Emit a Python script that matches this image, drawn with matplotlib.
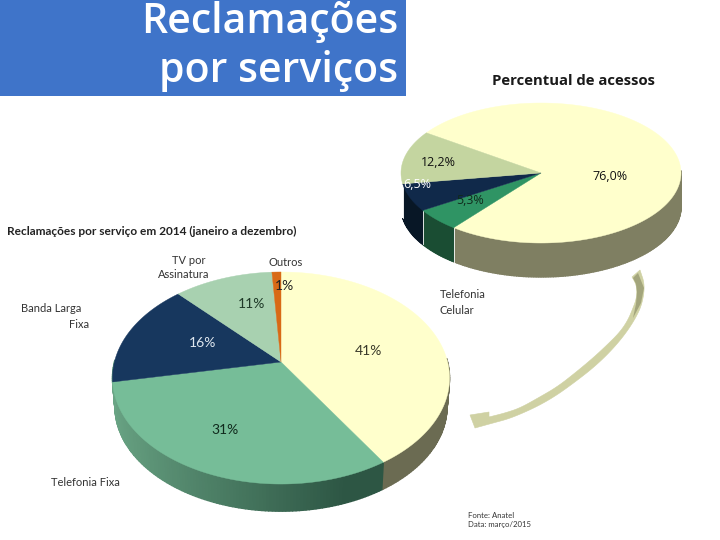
import matplotlib
matplotlib.use('Agg')
import matplotlib.pyplot as plt
from matplotlib.colors import to_rgb
from matplotlib.patches import Polygon, Rectangle
import numpy as np

# data
top_values = [76.0, 5.3, 6.5, 12.2]
top_text = ['76,0%', '5,3%', '6,5%', '12,2%']
top_colors = ['#ffffcc', '#2f9464', '#10294a', '#c4d5a0']
top_side_left = ['#7f7f62', '#1a4d33', '#081726', '#ffffff']
top_side_right = ['#7f7f62', '#1a4d33', '#081726', '#ffffff']

bottom_values = [41, 31, 16, 11, 1]
bottom_text = ['41%', '31%', '16%', '11%', '1%']
bottom_colors = ['#ffffcc', '#76bd98', '#17375e', '#a8d1b0', '#d86a16']
bottom_side_left = ['#75755a', '#6aa585', '#6aa585', '#78957e', '#99500f']
bottom_side_right = ['#6b6b52', '#2d5644', '#6aa585', '#78957e', '#99500f']

fig = plt.figure(figsize=(7.2, 5.4), dpi=100)
ax = fig.add_axes([0, 0, 1, 1])
ax.set_xlim(0, 720)
ax.set_ylim(540, 0)
ax.axis('off')


def project(t, cx, cy, a, b, k, depth=0, shrink=1.0):
    # circle -> slanted ellipse, apex stays at (cx, cy)
    u, v = np.cos(t), np.sin(t)
    x = cx + shrink * a * u / (1 + k * v)
    y = cy - shrink * b * v / (1 + k * v) + depth
    return x, y


def pie3d(values, colors, left, right, start, cx, cy, a, b, k, depth, shrink, seams):
    edges = start - np.cumsum([0] + list(values)) / sum(values) * 360
    # side wall first
    for i in range(len(values)):
        steps = np.arange(edges[i], edges[i + 1] - 1, -1.0)
        steps = np.append(steps[steps > edges[i + 1]], edges[i + 1])
        c0, c1 = np.array(to_rgb(left[i])), np.array(to_rgb(right[i]))
        for s0, s1 in zip(steps[:-1], steps[1:]):
            t0, t1 = np.radians(s0), np.radians(s1)
            if np.sin(t0) > 0.02 and np.sin(t1) > 0.02:
                continue
            x0, y0 = project(t0, cx, cy, a, b, k)
            x1, y1 = project(t1, cx, cy, a, b, k)
            x2, y2 = project(t1, cx, cy, a, b, k, depth, shrink)
            x3, y3 = project(t0, cx, cy, a, b, k, depth, shrink)
            f = np.clip((np.cos(t0) + 1) / 2 * 1.5, 0, 1)
            col = c0 + (c1 - c0) * f
            ax.fill([x0, x1, x2, x3], [y0, y1, y2, y3], facecolor=col, edgecolor=col, lw=1.0, zorder=2)
        # thin white seam between wall pieces
        t = np.radians(edges[i + 1])
        if seams and np.sin(t) < 0 and i < len(values) - 1:
            x0, y0 = project(t, cx, cy, a, b, k)
            x1, y1 = project(t, cx, cy, a, b, k, depth, shrink)
            ax.plot([x0, x1], [y0, y1], color='white', lw=0.6, zorder=3)
    # top face
    for i in range(len(values)):
        t = np.radians(np.linspace(edges[i], edges[i + 1], 200))
        x, y = project(t, cx, cy, a, b, k)
        ax.fill(np.r_[cx, x], np.r_[cy, y], color=colors[i], lw=0.3, zorder=4)


def smooth(pts, n=3):
    # corner cutting so the arrow edges are not lumpy
    pts = np.array(pts, dtype=float)
    for _ in range(n):
        q = 0.75 * pts[:-1] + 0.25 * pts[1:]
        r = 0.25 * pts[:-1] + 0.75 * pts[1:]
        mid = np.empty((2 * len(q), 2))
        mid[0::2] = q
        mid[1::2] = r
        pts = np.vstack([pts[0], mid, pts[-1]])
    return pts


# heading box
ax.add_patch(Rectangle((0, 0), 406, 96, color='#3f74c9', lw=0, zorder=1))
ax.text(398, 33, 'Reclamações', color='white', fontsize=29.5, fontweight='semibold', ha='right', va='baseline',
        family='Open Sans', zorder=6)
ax.text(398, 82, 'por serviços', color='white', fontsize=29.5, fontweight='semibold', ha='right', va='baseline',
        family='Open Sans', zorder=6)
ax.text(574, 81, 'Percentual de acessos', fontsize=10.7, fontweight='bold', ha='center', va='center',
        family='Open Sans', color='#1a1a1a')

pie3d(top_values, top_colors, top_side_left, top_side_right, 145, 541, 173, 140, 70, 0, 34, 1.0, True)
pie3d(bottom_values, bottom_colors, bottom_side_left, bottom_side_right, 90, 281, 362, 166.6, 103.6, 0.151, 29, 0.985, False)

# labels on the upper pie
top_pos = [(610, 176), (470, 200), (417, 185), (438, 162)]
top_col = ['#111111', '#10291c', 'white', '#111111']
for s, p, c in zip(top_text, top_pos, top_col):
    ax.text(p[0], p[1], s, color=c, fontsize=9, ha='center', va='center', family='Open Sans', zorder=6)

# labels on the lower pie
bottom_pos = [(368, 351), (225, 430), (203, 343), (252, 304), (284, 286)]
bottom_col = ['#3a3a2a', '#10291c', '#dfe7ef', '#1f3a28', '#222222']
for s, p, c in zip(bottom_text, bottom_pos, bottom_col):
    ax.text(p[0], p[1], s, color=c, fontsize=10, ha='center', va='center', family='Lato', zorder=6)

ax.text(7, 231, 'Reclamações por serviço em 2014 (janeiro a dezembro)', fontsize=8.55, fontweight='bold',
        family='Lato', color='#222222', ha='left', va='center')

label_col = '#333333'
ax.text(205, 260, 'TV por', fontsize=8, family='Lato', color=label_col, ha='right', va='center')
ax.text(209, 275, 'Assinatura', fontsize=8, family='Lato', color=label_col, ha='right', va='center')
ax.text(286, 262, 'Outros', fontsize=8, family='Lato', color=label_col, ha='center', va='center')
ax.text(21, 309, 'Banda Larga', fontsize=8, family='Lato', color=label_col, ha='left', va='center')
ax.text(89, 325, 'Fixa', fontsize=8, family='Lato', color=label_col, ha='right', va='center')
ax.text(440, 294, 'Telefonia', fontsize=8, family='Lato', color=label_col, ha='left', va='center')
ax.text(440, 310, 'Celular', fontsize=8, family='Lato', color=label_col, ha='left', va='center')
ax.text(51, 482, 'Telefonia Fixa', fontsize=8, family='Lato', color=label_col, ha='left', va='center')
ax.text(468, 515, 'Fonte: Anatel', fontsize=5.6, family='Lato', color=label_col, ha='left', va='center')
ax.text(468, 524, 'Data: março/2015', fontsize=5.6, family='Lato', color=label_col, ha='left', va='center')

# curved arrow between the pies
arrow_outer = [(640, 270), (645, 285), (642, 305), (634, 321), (623, 337), (609, 353), (593, 368), (575, 382),
               (557, 395), (540, 405), (523, 413), (508, 419), (493, 423), (475, 428)]
arrow_head = [(470, 415), (489, 412)]
arrow_inner = [(489, 417), (505, 413), (520, 408), (538, 398), (557, 387), (575, 373), (593, 358), (607, 345),
               (620, 332), (628, 320), (633, 308), (636, 300), (637, 292), (636, 284), (632, 277)]
inner_xy = [(638, 273), (644, 288), (641, 303), (633, 318), (636, 304), (637, 292), (636, 284), (633, 278)]
arrow_xy = np.vstack([smooth(arrow_outer), arrow_head, smooth(arrow_inner)])
ax.add_patch(Polygon(arrow_xy, closed=True, facecolor='#cfd1a3', edgecolor='#cfd1a3', lw=0.4, zorder=5))
ax.add_patch(Polygon(inner_xy, closed=True, facecolor='#a3a57c', edgecolor='none', zorder=5))

fig.savefig('out.png', dpi=100)
